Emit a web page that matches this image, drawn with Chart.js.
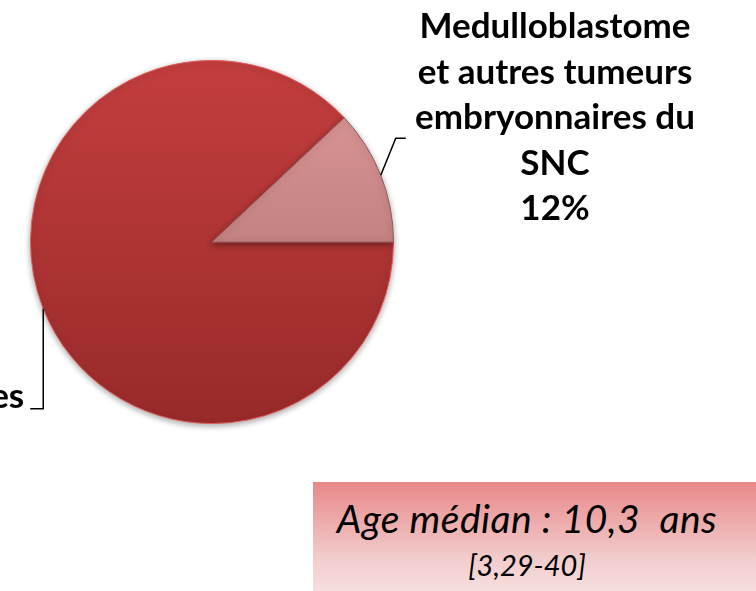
<!DOCTYPE html>
<html>
<head>
<meta charset="utf-8">
<script src="https://cdn.jsdelivr.net/npm/chart.js@4/dist/chart.umd.min.js"></script>
<style>
  body { margin: 0; background: #fff; }
  #wrap { position: relative; width: 756px; height: 591px; overflow: hidden; }
  #pieChart { position: absolute; left: 0; top: 0; }
  #ageBox {
    position: absolute; left: 313px; top: 482px; width: 443px; height: 109px;
    background: linear-gradient(to bottom, #e88888, #f2cccc 70%, #f7dede);
    font-family: Lato, sans-serif; font-style: italic; color: #000;
  }
  #ageMain { position: absolute; left: 0; width: 428px; top: 13px; text-align: center; font-size: 39px; letter-spacing: 0.5px; white-space: pre; }
  #ageRange { position: absolute; left: 0; width: 428px; top: 65px; text-align: center; font-size: 29px; }
</style>
</head>
<body>
<div id="wrap">
  <canvas id="pieChart" width="756" height="591"></canvas>
  <div id="ageBox">
    <div id="ageMain">Age médian : 10,3  ans</div>
    <div id="ageRange">[3,29-40]</div>
  </div>
</div>
<script>
const categories = ['Autres tumeurs cérébrales', 'Medulloblastome et autres tumeurs embryonnaires du SNC'];
const shares = [88, 12];
const labelLines = [
  ['88%', 'Autres tumeurs cérébrales'],
  ['Medulloblastome', 'et autres tumeurs', 'embryonnaires du', 'SNC', '12%']
];
const sliceTop = ['#c43e3e', '#e09a9a'];
const sliceBottom = ['#982a2a', '#a86a6a'];

function sliceGradient(context) {
  const chart = context.chart;
  const area = chart.chartArea;
  const i = context.dataIndex;
  if (!area) return sliceTop[i];
  const g = chart.ctx.createLinearGradient(0, area.top, 0, area.bottom);
  g.addColorStop(0, sliceTop[i]);
  g.addColorStop(1, sliceBottom[i]);
  return g;
}

const shadowPlugin = {
  id: 'pieShadow',
  beforeDatasetsDraw(chart) {
    const ctx = chart.ctx;
    ctx.save();
    ctx.shadowColor = 'rgba(0,0,0,0.35)';
    ctx.shadowBlur = 6;
    ctx.shadowOffsetY = 2;
  },
  afterDatasetsDraw(chart) {
    chart.ctx.restore();
  }
};

const labelPlugin = {
  id: 'sliceLabels',
  afterDraw(chart) {
    const ctx = chart.ctx;
    const arcs = chart.getDatasetMeta(0).data;
    ctx.save();
    ctx.font = 'bold 35px Lato';
    ctx.fillStyle = '#000';
    ctx.strokeStyle = '#000';
    ctx.lineWidth = 1.5;

    // small slice, label to the upper right
    let p = arcs[1].getProps(['x', 'y', 'startAngle', 'endAngle', 'outerRadius'], true);
    let mid = (p.startAngle + p.endAngle) / 2;
    let ex = p.x + Math.cos(mid) * p.outerRadius;
    let ey = p.y + Math.sin(mid) * p.outerRadius;
    ctx.beginPath();
    ctx.moveTo(ex, ey);
    ctx.lineTo(ex + 15, ey - 37);
    ctx.lineTo(ex + 25, ey - 37);
    ctx.stroke();
    ctx.textAlign = 'center';
    ctx.textBaseline = 'alphabetic';
    labelLines[1].forEach((line, i) => {
      ctx.fillText(line, p.x + 343, p.y - 204 + i * 45.5);
    });

    // big slice, label to the lower left (mostly outside the picture)
    p = arcs[0].getProps(['x', 'y', 'startAngle', 'endAngle', 'outerRadius'], true);
    mid = (p.startAngle + p.endAngle) / 2;
    ex = p.x + Math.cos(mid) * p.outerRadius;
    ey = p.y + Math.sin(mid) * p.outerRadius;
    ctx.beginPath();
    ctx.moveTo(ex, ey);
    ctx.lineTo(ex, ey + 100);
    ctx.lineTo(ex - 13, ey + 100);
    ctx.stroke();
    const last = labelLines[0][labelLines[0].length - 1];
    const cx = ex - 19 - ctx.measureText(last).width / 2;
    labelLines[0].forEach((line, i) => {
      const n = labelLines[0].length - 1 - i;
      ctx.fillText(line, cx, ey + 99 - n * 45.5);
    });
    ctx.restore();
  }
};

new Chart(document.getElementById('pieChart').getContext('2d'), {
  type: 'pie',
  data: {
    labels: categories,
    datasets: [{
      data: shares,
      backgroundColor: sliceGradient,
      borderColor: ['#e05a5a', '#8f5a5a'],
      borderWidth: 1
    }]
  },
  options: {
    responsive: false,
    animation: false,
    rotation: 90,
    layout: { padding: { left: 30, right: 362, top: 60, bottom: 167 } },
    plugins: {
      legend: { display: false },
      tooltip: { enabled: false }
    }
  },
  plugins: [shadowPlugin, labelPlugin]
});
</script>
</body>
</html>
